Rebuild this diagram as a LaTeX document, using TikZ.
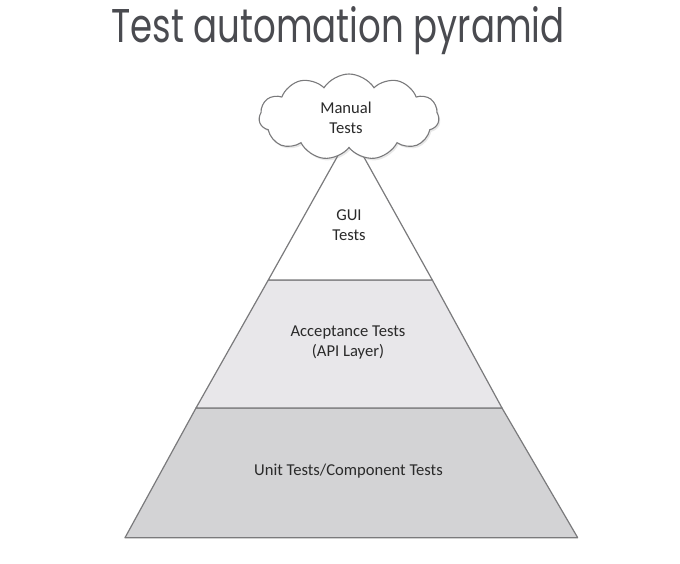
\documentclass[tikz,border=0pt]{standalone}
\usepackage{fontspec}
\usepackage{graphicx}
\setmainfont{Carlito}
\newfontfamily\titlefont{Poppins}
\usetikzlibrary{shapes.symbols,shadows}
\definecolor{edgegray}{HTML}{7A7A7C}
\definecolor{bottomfill}{HTML}{D3D3D5}
\definecolor{middlefill}{HTML}{E8E7EA}
\definecolor{labeltext}{HTML}{2A2A2A}
\definecolor{titletext}{HTML}{4A4B50}
\begin{document}
\begin{tikzpicture}[x=1pt,y=-1pt,
  layer/.style={draw=edgegray,line width=1.2pt,line join=round},
  lbl/.style={text=labeltext,font=\fontsize{16.6}{20}\selectfont,align=center,inner sep=0pt},
  cloudbox/.style={cloud,cloud puffs=11,cloud puff arc=115,aspect=2.1,
    draw=edgegray,line width=1.1pt,fill=white,
    minimum width=180pt,minimum height=86pt,inner sep=0pt,
    drop shadow={opacity=0.18,shadow xshift=1.5pt,shadow yshift=-2pt}}
]
\useasboundingbox (0,0) rectangle (680,564);
\fill[white] (0,0) rectangle (680,564);
% coordinates
\coordinate (A) at (350.5,133);
\coordinate (L1) at (268.3,280);
\coordinate (R1) at (432.3,280);
\coordinate (L2) at (196,408);
\coordinate (R2) at (502,408);
\coordinate (L3) at (125,537.7);
\coordinate (R3) at (577.7,537.7);
% layers
\draw[layer,fill=bottomfill] (L2) -- (R2) -- (R3) -- (L3) -- cycle;
\draw[layer,fill=middlefill] (L1) -- (R1) -- (R2) -- (L2) -- cycle;
\draw[layer,fill=white] (A) -- (R1) -- (L1) -- cycle;
% cloud
\node[cloudbox] (manualcloud) at (349,117) {};
% labels
\node[lbl] (manual) at (346,118) {Manual\\Tests};
\node[lbl] (gui) at (349,225) {GUI\\Tests};
\node[lbl] (accept) at (348,343) {Acceptance Tests\\(API Layer)};
\node[lbl] (unit) at (348.5,471) {Unit Tests/Component Tests};
% title
\node[text=titletext,inner sep=0pt,anchor=base] (title) at (338,43)
  {\resizebox{453pt}{36pt}{\titlefont Test automation pyramid}};
\end{tikzpicture}
\end{document}
